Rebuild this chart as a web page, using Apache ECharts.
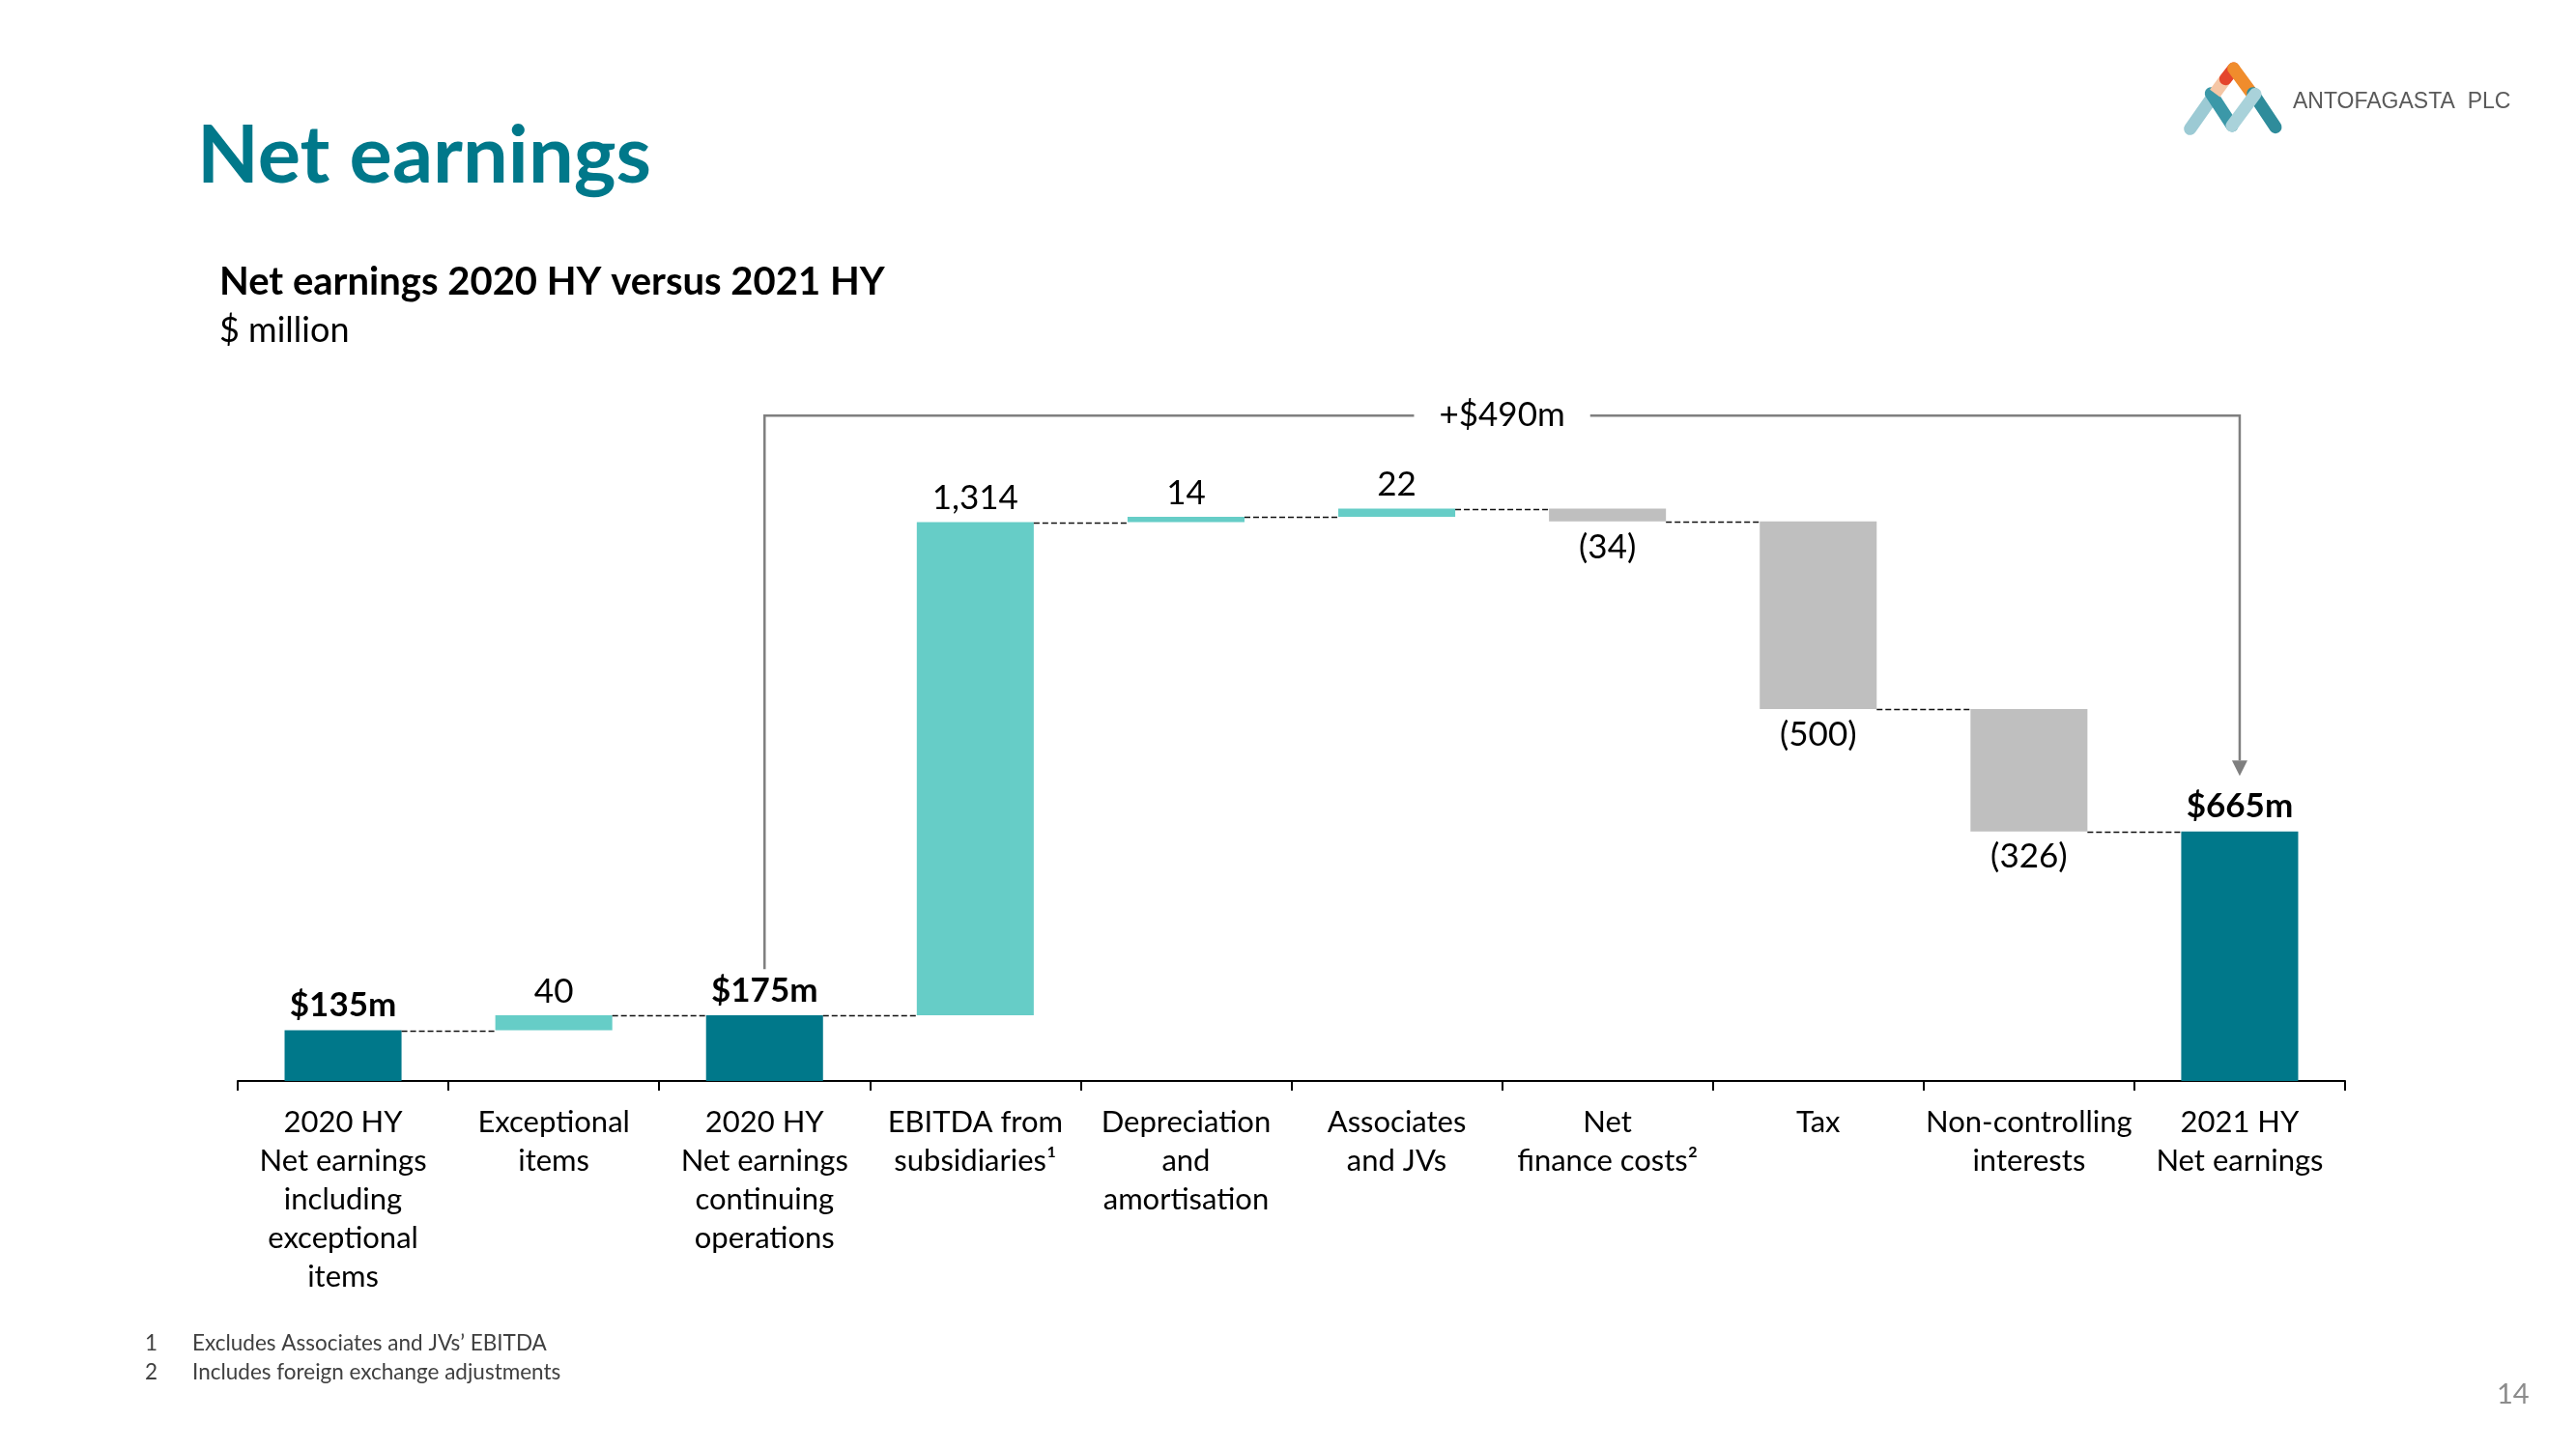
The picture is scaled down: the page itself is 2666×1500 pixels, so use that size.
<!DOCTYPE html>
<html>
<head>
<meta charset="utf-8">
<script src="https://cdn.jsdelivr.net/npm/echarts@6/dist/echarts.min.js"></script>
<style>
html,body{margin:0;padding:0;background:#fff;}
#chart{width:2666px;height:1500px;}
</style>
</head>
<body>
<div id="chart"></div>
<script>
// ---------- DATA ----------
const categories = [
  '2020 HY\nNet earnings\nincluding\nexceptional\nitems',
  'Exceptional\nitems',
  '2020 HY\nNet earnings\ncontinuing\noperations',
  'EBITDA from\nsubsidiaries¹',
  'Depreciation\nand\namortisation',
  'Associates\nand JVs',
  'Net\nfinance costs²',
  'Tax',
  'Non-controlling\ninterests',
  '2021 HY\nNet earnings'
];
const totalValues  = [135, null, 175, null, null, null, null, null, null, 665];
const changeValues = [null, 40, null, 1314, 14, 22, -34, -500, -326, null];
const bracketFrom = 2;
const bracketTo = 9;
const bracketLabel = '+$490m';
const footnotes = ['Excludes Associates and JVs’ EBITDA', 'Includes foreign exchange adjustments'];

// ---------- STYLE ----------
const FONT = 'Lato, "Noto Sans", sans-serif';
const C_TOTAL = '#00788A';
const C_UP = '#66CDC7';
const C_DOWN = '#BFBFBF';

// ---------- BUILD WATERFALL ----------
const baseData = [], visData = [], levels = [];
let run = 0;
for (let i = 0; i < categories.length; i++) {
  if (totalValues[i] !== null) {
    run = totalValues[i];
    baseData.push(0);
    visData.push({
      value: run,
      itemStyle: {color: C_TOTAL},
      label: {show: true, position: 'top', distance: 8, fontWeight: 'bold',
              formatter: '$' + run + 'm'}
    });
  } else {
    const d = changeValues[i];
    if (d >= 0) {
      baseData.push(run);
      run += d;
      visData.push({
        value: d, itemStyle: {color: C_UP},
        label: {show: true, position: 'top', distance: 7,
                formatter: d.toLocaleString('en-US')}
      });
    } else {
      run += d;
      baseData.push(run);
      visData.push({
        value: -d, itemStyle: {color: C_DOWN},
        label: {show: true, position: 'bottom', distance: 9,
                formatter: '(' + (-d).toLocaleString('en-US') + ')'}
      });
    }
  }
  levels.push(run);
}
const connectorData = levels.slice(0, -1).map((lv, i) => [i, lv]);
const maxLevel = Math.max(...levels);
const bracketData = [[bracketFrom, bracketTo,
  totalValues[bracketFrom] + 123, maxLevel + 248, totalValues[bracketTo] + 148]];

const BAR_RATIO = 0.555;

const chart = echarts.init(document.getElementById('chart'), null, {renderer: 'canvas'});

function stroke(x1, y1, x2, y2, color, cap) {
  return {type: 'line', shape: {x1: x1, y1: y1, x2: x2, y2: y2},
          style: {stroke: color, lineWidth: 13, lineCap: cap || 'round'}};
}

const option = {
  backgroundColor: '#fff',
  animation: false,
  textStyle: {fontFamily: FONT},
  grid: {left: 246, right: 239, top: 342, bottom: 381, containLabel: false},
  xAxis: {
    type: 'category',
    data: categories,
    axisLine: {lineStyle: {color: '#000', width: 2}},
    axisTick: {show: true, length: 10, lineStyle: {color: '#000', width: 2}},
    axisLabel: {interval: 0, color: '#000', fontSize: 31, lineHeight: 40,
                margin: 23, fontFamily: FONT}
  },
  yAxis: {
    type: 'value', min: 0, max: 2000, show: false,
    splitLine: {show: false}
  },
  series: [
    {
      name: 'base', type: 'bar', stack: 'w', barWidth: (BAR_RATIO * 100) + '%',
      itemStyle: {color: 'transparent'}, silent: true, data: baseData
    },
    {
      name: 'value', type: 'bar', stack: 'w', barWidth: (BAR_RATIO * 100) + '%',
      label: {color: '#000', fontSize: 35, fontFamily: FONT},
      data: visData
    },
    {
      name: 'connectors', type: 'custom', silent: true, z: 3,
      renderItem: function (params, api) {
        const i = api.value(0), lv = api.value(1);
        const p1 = api.coord([i, lv]);
        const p2 = api.coord([i + 1, lv]);
        const bw = api.size([1, 0])[0] * BAR_RATIO;
        const y = Math.round(p1[1]) + 0.5;
        return {type: 'line',
          shape: {x1: p1[0] + bw / 2, y1: y, x2: p2[0] - bw / 2, y2: y},
          style: {stroke: '#111', lineWidth: 1.4, lineDash: [6, 3]}};
      },
      encode: {x: 0, y: 1},
      data: connectorData
    },
    {
      name: 'bracket', type: 'custom', silent: true, z: 4,
      renderItem: function (params, api) {
        const a = api.value(0), b = api.value(1);
        const pL = api.coord([a, api.value(2)]);
        const pTL = api.coord([a, api.value(3)]);
        const pTR = api.coord([b, api.value(3)]);
        const pR = api.coord([b, api.value(4)]);
        const ah = 16, aw = 8;
        const col = '#7F7F7F';
        return {type: 'group', children: [
          {type: 'polyline', shape: {points: [pL, pTL, pTR, [pR[0], pR[1] - ah]]},
           style: {stroke: col, lineWidth: 2.5, fill: null}},
          {type: 'polygon', shape: {points: [[pR[0] - aw, pR[1] - ah], [pR[0] + aw, pR[1] - ah], [pR[0], pR[1]]]},
           style: {fill: col}},
          {type: 'text', x: (pTL[0] + pTR[0]) / 2, y: pTL[1],
           style: {text: bracketLabel, align: 'center', verticalAlign: 'middle',
                   font: '35px ' + FONT, fill: '#000', backgroundColor: '#fff',
                   padding: [4, 26]}}
        ]};
      },
      encode: {x: 0, y: 3},
      data: bracketData
    }
  ],
  graphic: [
    {type: 'text', left: 204, top: 121, style: {text: 'Net earnings', fill: '#00788A',
      font: 'bold 83px ' + FONT}},
    {type: 'text', left: 227, top: 272, style: {text: 'Net earnings 2020 HY versus 2021 HY', fill: '#000',
      font: 'bold 40px ' + FONT}},
    {type: 'text', left: 227, top: 324, style: {text: '$ million', fill: '#000',
      font: '36px ' + FONT}},
    {type: 'text', left: 150, top: 1379, style: {text: '1', fill: '#404040', font: '22.5px ' + FONT}},
    {type: 'text', left: 199, top: 1379, style: {text: footnotes[0], fill: '#404040', font: '22.5px ' + FONT}},
    {type: 'text', left: 150, top: 1409, style: {text: '2', fill: '#404040', font: '22.5px ' + FONT}},
    {type: 'text', left: 199, top: 1409, style: {text: footnotes[1], fill: '#404040', font: '22.5px ' + FONT}},
    {type: 'text', left: 2584, top: 1429, style: {text: '14', fill: '#8C8C8C', font: '29px ' + FONT}},
    {type: 'text', left: 2373, top: 94, style: {text: 'ANTOFAGASTA  PLC', fill: '#5A5A5A',
      font: '23px "Liberation Sans", Arial, sans-serif'}},
    {type: 'group', children: [
      stroke(2266.7, 133.3, 2292.3, 96.7, '#9CCAD4'),
      stroke(2288.3, 96.7, 2310, 130, '#3B98A8'),
      stroke(2292.3, 96.7, 2303.3, 81.7, '#F5C6A5', 'butt'),
      stroke(2303.3, 81.7, 2311.7, 71, '#E4452C'),
      stroke(2311.7, 71, 2331.7, 98.3, '#F08C2C'),
      stroke(2331.7, 96.7, 2355, 131.7, '#2F8C9B'),
      stroke(2310, 130, 2334, 97.5, '#A9D2DA')
    ]}
  ]
};
chart.setOption(option);
</script>
</body>
</html>
